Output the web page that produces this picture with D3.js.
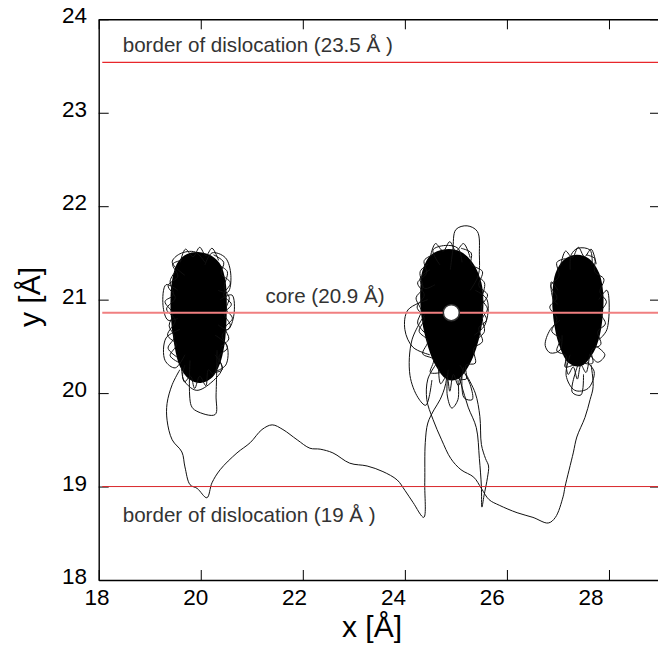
<!DOCTYPE html>
<html>
<head>
<meta charset="utf-8">
<script src="https://cdn.jsdelivr.net/npm/d3@7/dist/d3.min.js"></script>
<style>
    html, body { margin: 0; padding: 0; background: #fff; }
    svg { display: block; font-family: 'Liberation Sans', Arial, sans-serif; }
    .tick-label { font-size: 22.5px; fill: #000; }
    .note { font-size: 20.6px; fill: #333; }
    .axis-title { font-size: 30px; fill: #000; }
</style>
</head>
<body>
<div id="chart"></div>
<script>
const X_TICKS = [18, 20, 22, 24, 26, 28];
const Y_TICKS = [18, 19, 20, 21, 22, 23, 24];

const REFERENCE_LINES = [
    { y: 23.54, label: 'border of dislocation (23.5 Å )', labelX: 18.47, labelY: 23.65, kind: 'border-top' },
    { y: 20.86, label: 'core (20.9 Å)', labelX: 21.27, labelY: 20.96, kind: 'core' },
    { y: 19.0, label: 'border of dislocation (19 Å )', labelX: 18.47, labelY: 18.62, kind: 'border-bottom' }
];

const MARKER = { x: 24.91, y: 20.86 };

// dense cores of the three clusters (outline)
const CORE_1 = [
    [19.95, 21.50], [20.20, 21.46], [20.38, 21.36], [20.47, 21.18], [20.49, 20.98], [20.48, 20.72],
    [20.44, 20.50], [20.36, 20.32], [20.22, 20.18], [20.00, 20.12], [19.78, 20.16], [19.60, 20.30],
    [19.50, 20.52], [19.43, 20.85], [19.45, 21.18], [19.55, 21.38], [19.74, 21.48]
];
const CORE_2 = [
    [24.80, 21.53], [25.06, 21.51], [25.30, 21.40], [25.48, 21.18], [25.52, 20.94], [25.48, 20.70],
    [25.38, 20.48], [25.24, 20.30], [25.04, 20.16], [24.82, 20.16], [24.60, 20.32], [24.43, 20.58],
    [24.34, 20.84], [24.32, 21.08], [24.36, 21.30], [24.52, 21.47]
];
const CORE_3 = [
    [27.35, 21.47], [27.60, 21.43], [27.79, 21.28], [27.87, 21.06], [27.86, 20.84], [27.80, 20.62],
    [27.68, 20.44], [27.45, 20.30], [27.22, 20.33], [27.04, 20.52], [26.93, 20.80], [26.91, 21.06],
    [26.97, 21.28], [27.13, 21.42]
];

// larger loops and the scribbled fringe of each cluster
const LOOPS_1 = [
    [[19.69, 21.26], [19.44, 21.40], [19.59, 21.49], [19.89, 21.51], [20.08, 21.40]],
    [[20.08, 21.37], [20.22, 21.50], [20.48, 21.45], [20.59, 21.26], [20.53, 21.08], [20.34, 21.10]],
    [[20.38, 21.00], [20.61, 21.05], [20.65, 20.84], [20.53, 20.68], [20.34, 20.73]],
    [[19.55, 21.10], [19.32, 21.16], [19.26, 20.94], [19.36, 20.78], [19.55, 20.80]],
    [[19.59, 20.68], [19.32, 20.59], [19.30, 20.35], [19.50, 20.27], [19.69, 20.41]],
    [[19.79, 20.35], [19.81, 19.87], [19.91, 19.81], [20.28, 19.77], [20.30, 19.98], [20.32, 20.46]],
    [[19.69, 20.30], [19.65, 20.16], [19.91, 20.03], [20.22, 20.12], [20.42, 20.27], [20.28, 20.41]],
    [[20.28, 20.62], [20.51, 20.51], [20.49, 20.30], [20.28, 20.23]],
    [[19.62, 21.42], [19.45, 21.38], [19.55, 21.25], [19.36, 21.15], [19.50, 21.02], [19.33, 20.90], [19.50, 20.78], [19.35, 20.62], [19.52, 20.52], [19.40, 20.40], [19.60, 20.32]],
    [[19.50, 21.30], [19.40, 21.20], [19.46, 21.05], [19.30, 20.98], [19.45, 20.85], [19.38, 20.72], [19.48, 20.60], [19.36, 20.48], [19.55, 20.38]],
    [[20.25, 21.48], [20.45, 21.40], [20.40, 21.28], [20.58, 21.18], [20.45, 21.05], [20.60, 20.95], [20.46, 20.85], [20.58, 20.72], [20.42, 20.62], [20.52, 20.48], [20.36, 20.40], [20.42, 20.25], [20.25, 20.22]],
    [[20.38, 21.36], [20.52, 21.30], [20.46, 21.12], [20.56, 21.02], [20.50, 20.90], [20.62, 20.80], [20.48, 20.70], [20.55, 20.58], [20.40, 20.50]],
    [[19.60, 21.40], [19.70, 21.54], [19.85, 21.46], [19.98, 21.56], [20.10, 21.47], [20.22, 21.55], [20.35, 21.42]],
    [[20.35, 20.35], [20.25, 20.20], [20.15, 20.25], [20.10, 20.08], [19.98, 20.18], [19.88, 20.05], [19.80, 20.18], [19.68, 20.12], [19.62, 20.28]]
];
const LOOPS_2 = [
    [[24.89, 21.32], [24.94, 21.53], [25.00, 21.75], [25.22, 21.79], [25.42, 21.73], [25.46, 21.48], [25.44, 21.26], [25.28, 21.10]],
    [[24.69, 21.37], [24.55, 21.53], [24.79, 21.58], [25.04, 21.55], [25.12, 21.40]],
    [[24.49, 21.32], [24.30, 21.23], [24.39, 21.12], [24.59, 21.16]],
    [[25.38, 21.10], [25.61, 21.00], [25.57, 20.73], [25.36, 20.62]],
    [[24.45, 21.00], [24.06, 20.89], [24.00, 20.68], [24.16, 20.49], [24.49, 20.41]],
    [[24.39, 20.84], [24.14, 20.57], [24.10, 20.19], [24.26, 19.95], [24.41, 19.87], [24.53, 20.14]],
    [[24.85, 20.25], [24.83, 19.98], [24.92, 19.84], [25.04, 19.93], [25.04, 20.14]],
    [[25.08, 20.30], [25.28, 20.09], [25.32, 19.93], [25.16, 19.95], [25.12, 20.19]],
    [[24.55, 21.48], [24.38, 21.42], [24.42, 21.28], [24.25, 21.18], [24.38, 21.05], [24.24, 20.92], [24.38, 20.80], [24.28, 20.66], [24.45, 20.56], [24.35, 20.42], [24.56, 20.36], [24.50, 20.22], [24.70, 20.22]],
    [[24.45, 21.38], [24.30, 21.30], [24.35, 21.12], [24.22, 21.02], [24.32, 20.88], [24.25, 20.75], [24.40, 20.64]],
    [[25.10, 21.55], [25.30, 21.50], [25.30, 21.38], [25.52, 21.30], [25.45, 21.15], [25.62, 21.05], [25.50, 20.92], [25.60, 20.78], [25.45, 20.70], [25.52, 20.55], [25.35, 20.48], [25.38, 20.32], [25.20, 20.30], [25.20, 20.15], [25.02, 20.16]],
    [[25.42, 21.25], [25.56, 21.18], [25.52, 21.00], [25.62, 20.90], [25.52, 20.80], [25.56, 20.66], [25.42, 20.58]],
    [[24.50, 21.46], [24.60, 21.60], [24.75, 21.52], [24.88, 21.62], [25.00, 21.52], [25.15, 21.60], [25.28, 21.45]],
    [[25.15, 20.28], [25.05, 20.08], [24.95, 20.20], [24.88, 20.02], [24.82, 20.18], [24.70, 20.10], [24.66, 20.28]]
];
const LOOPS_3 = [
    [[27.24, 21.32], [27.26, 21.48], [27.39, 21.55], [27.63, 21.53], [27.67, 21.37]],
    [[27.04, 20.78], [26.85, 20.68], [26.75, 20.51], [26.85, 20.43], [27.04, 20.46], [27.08, 20.62]],
    [[27.00, 21.10], [26.87, 21.19], [26.91, 21.00], [27.00, 20.95]],
    [[27.80, 21.00], [27.96, 21.10], [27.96, 20.68], [27.80, 20.57]],
    [[27.73, 20.51], [27.92, 20.41], [27.78, 20.33], [27.63, 20.41]],
    [[27.24, 20.41], [27.16, 20.19], [27.33, 20.03], [27.59, 20.05], [27.71, 20.23], [27.53, 20.35]],
    [[27.39, 20.30], [27.28, 20.01], [27.45, 19.98], [27.50, 20.20]],
    [[27.15, 21.44], [26.98, 21.40], [27.02, 21.25], [26.86, 21.15], [26.98, 21.02], [26.84, 20.92], [26.98, 20.80], [26.88, 20.66], [27.04, 20.58], [26.98, 20.45], [27.16, 20.40], [27.14, 20.28], [27.30, 20.30]],
    [[27.55, 21.48], [27.72, 21.44], [27.72, 21.30], [27.90, 21.22], [27.82, 21.08], [27.95, 20.98], [27.84, 20.86], [27.93, 20.74], [27.78, 20.66], [27.84, 20.52], [27.66, 20.46], [27.68, 20.32], [27.50, 20.32]],
    [[27.05, 21.36], [27.15, 21.52], [27.28, 21.45], [27.40, 21.56], [27.52, 21.46], [27.65, 21.54], [27.75, 21.38]],
    [[27.62, 20.42], [27.55, 20.22], [27.45, 20.30], [27.38, 20.15], [27.30, 20.28], [27.20, 20.20], [27.15, 20.36]]
];

// the long excursions between the clusters
const PATH_1_TO_2 = [
    [19.59, 20.25], [19.44, 20.09], [19.34, 19.89], [19.34, 19.71], [19.44, 19.50], [19.63, 19.37],
    [19.69, 19.21], [19.79, 19.02], [19.93, 18.98], [20.12, 18.88], [20.22, 19.04], [20.38, 19.18],
    [20.71, 19.36], [20.97, 19.47], [21.20, 19.61], [21.40, 19.66], [21.61, 19.61], [21.89, 19.50],
    [22.14, 19.41], [22.34, 19.40], [22.59, 19.36], [22.92, 19.25], [23.26, 19.22], [23.57, 19.16],
    [23.85, 19.07], [24.00, 18.96], [24.16, 18.83], [24.37, 18.67], [24.39, 19.04], [24.40, 19.47],
    [24.45, 19.68], [24.57, 19.82], [24.69, 19.93], [24.80, 20.10], [24.85, 20.40]
];
const PATH_2_TO_3 = [
    [24.60, 20.30], [24.45, 20.15], [24.43, 19.93], [24.55, 19.72], [24.72, 19.50], [24.90, 19.30],
    [25.10, 19.18], [25.35, 19.10], [25.50, 18.98], [25.65, 18.86], [25.85, 18.80], [26.20, 18.72],
    [26.51, 18.67], [26.81, 18.61], [26.95, 18.67], [27.10, 18.89], [27.14, 19.00], [27.30, 19.36],
    [27.37, 19.53], [27.53, 19.74], [27.63, 19.93], [27.69, 20.07], [27.65, 20.30]
];
const PATH_HOOK = [
    [24.96, 20.30], [25.10, 20.10], [25.24, 19.85], [25.40, 19.63], [25.46, 19.30], [25.50, 19.00],
    [25.51, 18.78], [25.55, 18.90], [25.62, 19.10], [25.64, 19.22], [25.58, 19.30], [25.50, 19.45],
    [25.47, 19.75], [25.38, 20.00], [25.20, 20.20]
];

const WIDTH = 658;
const HEIGHT = 651;

const xScale = d3.scaleLinear().domain([18, 29]).range([98.7, 660]);
const yScale = d3.scaleLinear().domain([18, 24]).range([580, 19.3]);
// tick numbers below the x axis sit on a slightly tighter spacing than the ticks
const xLabelScale = d3.scaleLinear().domain([18, 28]).range([97, 591]);

const svg = d3.select('#chart').append('svg')
    .attr('width', WIDTH)
    .attr('height', HEIGHT);

const line = d3.line()
    .x((point) => xScale(point[0]))
    .y((point) => yScale(point[1]))
    .curve(d3.curveCatmullRom);

const closedLine = d3.line()
    .x((point) => xScale(point[0]))
    .y((point) => yScale(point[1]))
    .curve(d3.curveCatmullRomClosed);

function drawCluster(core, loops) {
    const group = svg.append('g');

    group.append('path')
        .attr('d', closedLine(core))
        .attr('fill', '#000')
        .attr('stroke', '#000')
        .attr('stroke-width', 2);

    group.selectAll('.loop')
        .data(loops)
        .enter()
        .append('path')
        .attr('class', 'loop')
        .attr('d', (loop) => line(loop))
        .attr('fill', 'none')
        .attr('stroke', '#111')
        .attr('stroke-width', 1);
}

function drawTrajectory(points) {
    svg.append('path')
        .attr('d', line(points))
        .attr('fill', 'none')
        .attr('stroke', '#111')
        .attr('stroke-width', 1);
}

function styleAxis(group) {
    group.select('.domain').attr('stroke', '#000').attr('stroke-width', 1.4);
    group.selectAll('.tick line').attr('stroke', '#000').attr('stroke-width', 1);
    group.selectAll('.tick text').remove();
}

// frame with inward ticks on all four sides
svg.append('g')
    .attr('transform', `translate(0,${yScale(18)})`)
    .call(d3.axisBottom(xScale).tickValues(X_TICKS).tickSize(-10).tickSizeOuter(0))
    .call(styleAxis);

svg.append('g')
    .attr('transform', `translate(0,${yScale(24)})`)
    .call(d3.axisTop(xScale).tickValues(X_TICKS).tickSize(-10).tickSizeOuter(0))
    .call(styleAxis);

svg.append('g')
    .attr('transform', `translate(${xScale(18)},0)`)
    .call(d3.axisLeft(yScale).tickValues(Y_TICKS).tickSize(-10).tickSizeOuter(0))
    .call(styleAxis);

svg.append('g')
    .attr('transform', `translate(${xScale(29)},0)`)
    .call(d3.axisRight(yScale).tickValues(Y_TICKS).tickSize(-10).tickSizeOuter(0))
    .call(styleAxis);

svg.selectAll('.x-label')
    .data(X_TICKS)
    .enter()
    .append('text')
    .attr('class', 'tick-label x-label')
    .attr('x', (value) => xLabelScale(value))
    .attr('y', 605)
    .attr('text-anchor', 'middle')
    .text((value) => value);

svg.selectAll('.y-label')
    .data(Y_TICKS)
    .enter()
    .append('text')
    .attr('class', 'tick-label y-label')
    .attr('x', 87)
    .attr('y', (value) => yScale(value))
    .attr('dy', '0.18em')
    .attr('text-anchor', 'end')
    .text((value) => value);

svg.append('text')
    .attr('class', 'axis-title')
    .attr('x', 372)
    .attr('y', 637)
    .attr('text-anchor', 'middle')
    .text('x [Å]');

svg.append('text')
    .attr('class', 'axis-title')
    .attr('transform', 'translate(40,297) rotate(-90)')
    .attr('text-anchor', 'middle')
    .text('y [Å]');

// trajectory
drawTrajectory(PATH_1_TO_2);
drawTrajectory(PATH_2_TO_3);
drawTrajectory(PATH_HOOK);
drawCluster(CORE_1, LOOPS_1);
drawCluster(CORE_2, LOOPS_2);
drawCluster(CORE_3, LOOPS_3);

// reference lines and their notes
const lineStyles = {
    'border-top': { color: '#e8262b', width: 1.3 },
    'core': { color: '#f07f80', width: 2 },
    'border-bottom': { color: '#d9262b', width: 1 }
};

svg.selectAll('.ref-line')
    .data(REFERENCE_LINES)
    .enter()
    .append('line')
    .attr('class', 'ref-line')
    .attr('x1', xScale(18.07))
    .attr('x2', xScale(29))
    .attr('y1', (datum) => yScale(datum.y))
    .attr('y2', (datum) => yScale(datum.y))
    .attr('stroke', (datum) => lineStyles[datum.kind].color)
    .attr('stroke-width', (datum) => lineStyles[datum.kind].width);

svg.selectAll('.note')
    .data(REFERENCE_LINES)
    .enter()
    .append('text')
    .attr('class', 'note')
    .attr('x', (datum) => xScale(datum.labelX))
    .attr('y', (datum) => yScale(datum.labelY))
    .text((datum) => datum.label);

svg.append('circle')
    .attr('cx', xScale(MARKER.x))
    .attr('cy', yScale(MARKER.y))
    .attr('r', 8)
    .attr('fill', '#fff')
    .attr('stroke', '#333')
    .attr('stroke-width', 1.5);
</script>
</body>
</html>
